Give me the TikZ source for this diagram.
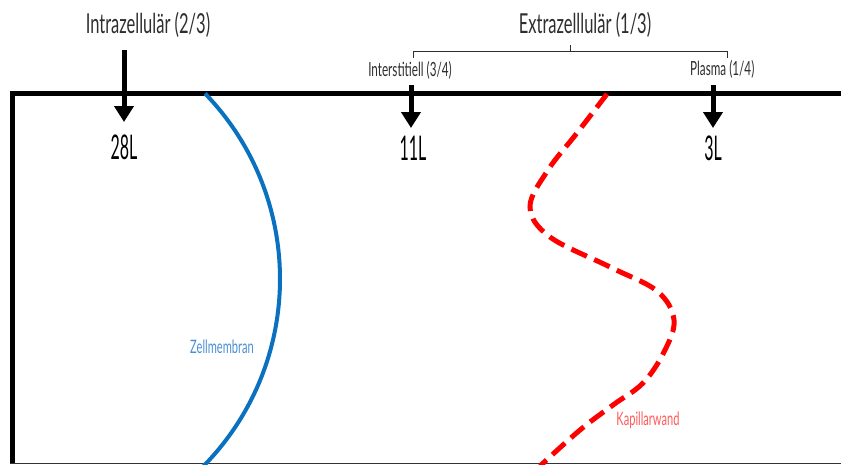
\documentclass[tikz,border=0pt]{standalone}
\usepackage{fontspec}
\setmainfont{Lato}[FakeStretch=0.6]
\newfontfamily\numfont{Lato}[FakeStretch=0.47]
\usetikzlibrary{arrows.meta}
\definecolor{txt}{HTML}{2E2E2E}
\definecolor{membrane}{HTML}{0A70C0}
\definecolor{membranetxt}{HTML}{4A8FD2}
\definecolor{capwall}{HTML}{FF0000}
\definecolor{capwalltxt}{HTML}{FF5A5A}
\begin{document}
\begin{tikzpicture}[x=1pt,y=-1pt,
  frame/.style={line width=5pt,black},
  downarrow/.style={line width=5pt,-{Triangle[width=19pt,length=16pt]}},
  title/.style={text=txt,inner sep=0pt,font=\fontsize{27.5}{29}\selectfont},
  sublabel/.style={text=txt,inner sep=0pt,font=\fontsize{19.5}{21}\selectfont},
  volume/.style={text=black,inner sep=0pt,font=\numfont\fontsize{34}{36}\selectfont},
  brace/.style={line width=1pt,txt}]
\useasboundingbox (0,0) rectangle (841,464);

% compartment frame
\draw[frame] (12.5,464) -- (12.5,93.5) -- (850,93.5);
\draw[line width=1.2pt,black!80] (10,463.6) -- (850,463.6);

% cell membrane
\draw[membrane,line width=4pt] (13,279) ++(-44:267) arc[start angle=-44,end angle=45,radius=267];
\node[text=membranetxt,inner sep=0pt,font=\fontsize{18.5}{20}\selectfont] (zm) at (222,347) {Zellmembran};

% capillary wall
\draw[capwall,line width=5pt,dash pattern=on 17pt off 8pt]
  plot[smooth,tension=0.6] coordinates {(607,94) (577,133) (548,170) (530,207) (550,237) (610,267) (657,291) (674,320) (664,352) (643,383) (613,405) (580,430) (540,466)};
\node[text=capwalltxt,inner sep=0pt,font=\fontsize{18.5}{20}\selectfont] (kw) at (648,420) {Kapillarwand};

% headings
\node[title] (intra) at (148,25) {Intrazellulär (2/3)};
\node[title] (extra) at (585,25) {Extrazelllulär (1/3)};
\node[sublabel] (inter) at (410,70) {Interstitiell (3/4)};
\node[sublabel,anchor=west] (plasma) at (690,69) {Plasma (1/4)};

% brace under the extracellular heading
\coordinate (bl) at (413,58);
\coordinate (br) at (727,58);
\coordinate (bm) at (570,45);
\draw[brace] (bl) -- (bl |- 0,51) -- (br |- 0,51) -- (br);
\draw[brace] (bm) -- (bm |- 0,51);

% volumes
\node[volume] (v28) at (124,147) {28L};
\node[volume] (v11) at (413,148) {11L};
\node[volume] (v3) at (713,148) {3L};

% arrows
\coordinate (s28) at (124,50);
\coordinate (s11) at (411,85);
\coordinate (s3) at (713,85);
\draw[downarrow] (s28) -- (s28 |- 0,122);
\draw[downarrow] (s11) -- (s11 |- 0,128);
\draw[downarrow] (s3) -- (s3 |- 0,128);
\end{tikzpicture}
\end{document}
